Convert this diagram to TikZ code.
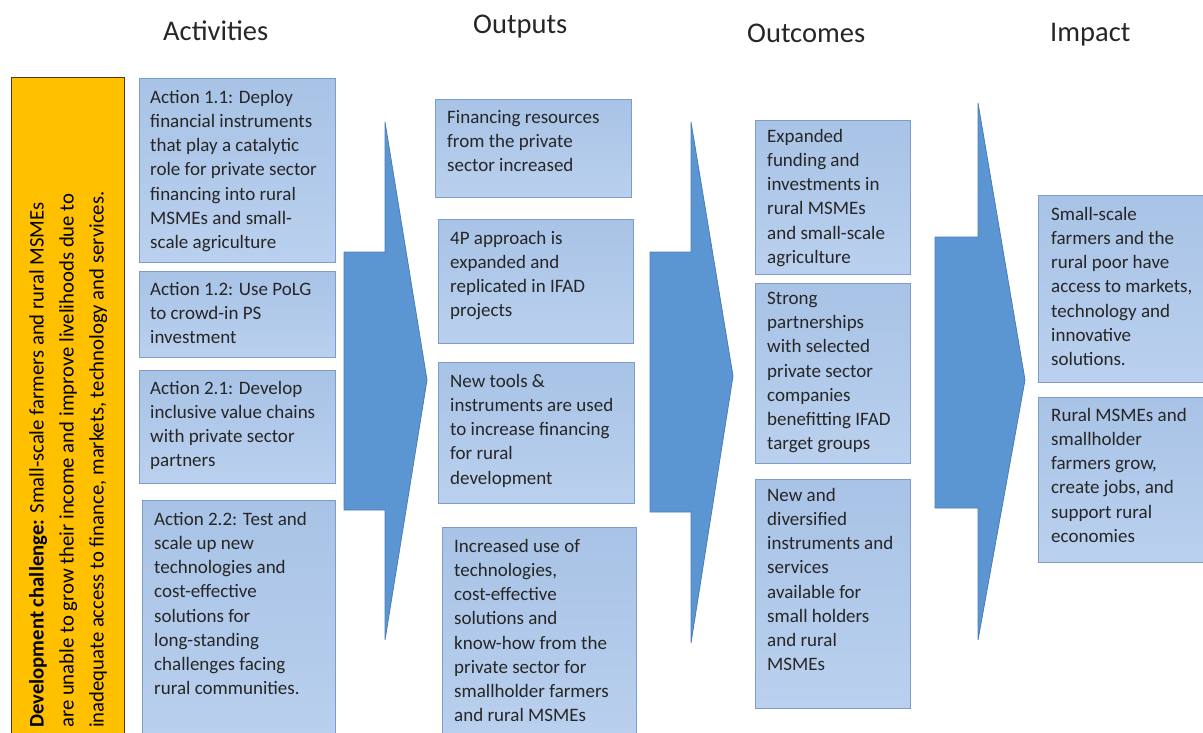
\documentclass[tikz,border=0pt]{standalone}
\usepackage{fontspec}
\setmainfont{Carlito}
\usetikzlibrary{positioning}

\definecolor{boxtop}{HTML}{A8C3E6}
\definecolor{boxbot}{HTML}{BAD0EE}
\definecolor{boxline}{HTML}{7C9DC9}
\definecolor{arrowblue}{HTML}{5B96D3}
\definecolor{arrowline}{HTML}{4A7DB5}
\definecolor{chyellow}{HTML}{FFC000}
\definecolor{chline}{HTML}{4A3A1A}
\definecolor{textdark}{HTML}{262626}

\begin{document}
\begin{tikzpicture}[x=1pt, y=-1pt,
  box/.style 2 args={
    rectangle,
    draw=boxline,
    line width=0.8pt,
    top color=boxtop,
    bottom color=boxbot,
    anchor=north west,
    inner sep=0pt,
    minimum width=#1,
    minimum height=#2},
  txt/.style={align=left, inner sep=0pt, text=textdark,
    font=\fontsize{19}{24.2}\selectfont},
  head/.style={anchor=base west, inner sep=0pt, text=textdark,
    font=\fontsize{28.5}{32}\selectfont},
  bigarrow/.style={fill=arrowblue, draw=arrowline, line width=0.8pt}]
  \useasboundingbox (0,0) rectangle (1203,733);
  \clip (0,0) rectangle (1203,733);
  % draw column titles
  \foreach \t/\x/\y [count=\i] in {Activities/163/41,Outputs/473/34,Outcomes/747/43,Impact/1050/42}
    \node[head] (t\i) at (\x,\y) {\t};
  % draw the big arrows between the columns
  \foreach \l/\s/\p/\ya/\yb/\yp/\yc/\yd in {344/385/427/122/252/380/510/640,
      650/691/733/122/252/376/512/643, 935/978/1025/103/237/380/508/640}
    \draw[bigarrow] (\l,\yb) -- (\s,\yb) -- (\s,\ya) -- (\p,\yp)
      -- (\s,\yd) -- (\s,\yc) -- (\l,\yc) -- cycle;
  % draw development challenge bar
  \node[rectangle, draw=chline, line width=1pt, fill=chyellow, anchor=north west,
    minimum width=113pt, minimum height=700pt] (dc) at (11,77) {};
  \node[rotate=90, anchor=north west, align=left, inner sep=0pt, text=black,
    font=\fontsize{20.7}{30}\selectfont] (dct) at (29,728)
    {\textbf{Development challenge:} Small-scale farmers and rural MSMEs\\
     are unable to grow their income and improve livelihoods due to\\
     inadequate access to finance, markets, technology and services.};
  % draw the boxes of each column
  \foreach \n/\x/\y/\w/\h in {a1/139/78/196/184, a2/139/271/196/86, a3/139/370/196/113,
      a4/142/500/193/250, o1/435/99/196/98, o2/438/219/195/124, o3/438/362/196/141,
      o4/442/527/194/220, c1/755/120/155/154, c2/755/283/155/180, c3/755/479/155/229,
      i1/1038/195/175/187, i2/1038/397/175/165}
    \node[box={\w pt}{\h pt}] (\n) at (\x,\y) {};
  % activities
  \node[txt, below right=12pt and 11pt of a1.north west] (a1t) {Action 1.1: Deploy\\
    financial instruments\\that play a catalytic\\role for private sector\\
    financing into rural\\MSMEs and small-\\scale agriculture};
  \node[txt, below right=11pt and 11pt of a2.north west] (a2t) {Action 1.2: Use PoLG\\
    to crowd-in PS\\investment};
  \node[txt, below right=11pt and 11pt of a3.north west] (a3t) {Action 2.1: Develop\\
    inclusive value chains\\with private sector\\partners};
  \node[txt, below right=12pt and 12pt of a4.north west] (a4t) {Action 2.2: Test and\\
    scale up new\\technologies and\\cost-effective\\solutions for\\long-standing\\
    challenges facing\\rural communities.};
  % outputs
  \node[txt, below right=11pt and 12pt of o1.north west] (o1t) {Financing resources\\
    from the private\\sector increased};
  \node[txt, below right=12pt and 12pt of o2.north west] (o2t) {4P approach is\\
    expanded and\\replicated in IFAD\\projects};
  \node[txt, below right=12pt and 12pt of o3.north west] (o3t) {New tools \&\\
    instruments are used\\to increase financing\\for rural\\development};
  \node[txt, below right=12pt and 12pt of o4.north west] (o4t) {Increased use of\\
    technologies,\\cost-effective\\solutions and\\know-how from the\\
    private sector for\\smallholder farmers\\and rural MSMEs};
  % outcomes
  \node[txt, below right=9pt and 12pt of c1.north west] (c1t) {Expanded\\funding and\\
    investments in\\rural MSMEs\\and small-scale\\agriculture};
  \node[txt, below right=9pt and 12pt of c2.north west] (c2t) {Strong\\partnerships\\
    with selected\\private sector\\companies\\benefitting IFAD\\target groups};
  \node[txt, below right=9pt and 12pt of c3.north west] (c3t) {New and\\diversified\\
    instruments and\\services\\available for\\small holders\\and rural\\MSMEs};
  % impact
  \node[txt, below right=12pt and 13pt of i1.north west] (i1t) {Small-scale\\
    farmers and the\\rural poor have\\access to markets,\\technology and\\
    innovative\\solutions.};
  \node[txt, below right=11pt and 13pt of i2.north west] (i2t) {Rural MSMEs and\\
    smallholder\\farmers grow,\\create jobs, and\\support rural\\economies};
\end{tikzpicture}
\end{document}
